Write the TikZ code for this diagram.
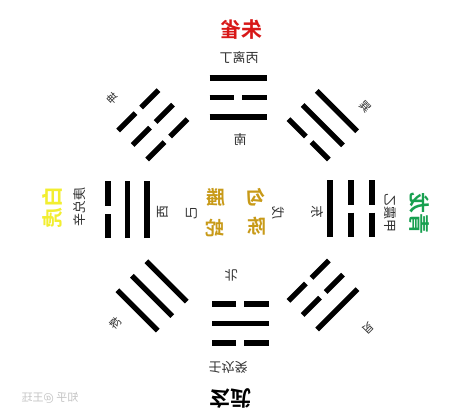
\documentclass[tikz,border=0pt]{standalone}
\usepackage{fontspec}
\usepackage{graphicx}
\newfontfamily\cjk{Noto Sans CJK SC}
\newfontfamily\cjkb{Noto Sans CJK SC Bold}
\definecolor{zhuquered}{HTML}{D81818}
\definecolor{qinglonggreen}{HTML}{18A050}
\definecolor{baihuyellow}{HTML}{F2EE30}
\definecolor{centergold}{HTML}{C89A18}
\definecolor{markgray}{HTML}{C4C4C4}
\definecolor{labelgray}{HTML}{303030}
\tikzset{
  yaoline/.style={line width=5.3pt, black, line cap=butt},
  yaoyang/.pic={\draw[yaoline] (-28.5,0) -- (28.5,0);},
  yaoyin/.pic={\draw[yaoline] (-28.5,0) -- (-4,0); \draw[yaoline] (4,0) -- (28.5,0);},
  lbl/.style={inner sep=0pt, text=labelgray, font=\cjk\fontsize{13}{13}\selectfont},
  smlbl/.style={inner sep=0pt, text=labelgray, font=\cjk\fontsize{11}{11}\selectfont},
  beast/.style={inner sep=0pt, font=\cjkb\fontsize{21}{21}\selectfont},
  centerlbl/.style={inner sep=0pt, text=centergold, font=\cjkb\fontsize{19}{19}\selectfont},
  watermark/.style={inner sep=0pt, text=markgray, font=\cjk\fontsize{11}{11}\selectfont},
  guascope/.style={transform shape},
}
\begin{document}
\begin{tikzpicture}[x=1pt,y=-1pt]
\fill[white] (0,0) rectangle (474,418);
\useasboundingbox (0,0) rectangle (474,418);

% ---- cardinal trigrams ----
% top: li
\begin{scope}[shift={(238,210)}, rotate=0, guascope]
  \pic at (0,-93) {yaoyang}; \pic at (0,-112.5) {yaoyin}; \pic at (0,-132) {yaoyang};
\end{scope}
% bottom: kan
\begin{scope}[shift={(240,210)}, rotate=180, guascope]
  \pic at (0,-94) {yaoyin}; \pic at (0,-113.5) {yaoyang}; \pic at (0,-133) {yaoyin};
\end{scope}
% left: dui
\begin{scope}[shift={(238,209.5)}, rotate=90, guascope]
  \pic at (0,-91) {yaoyang}; \pic at (0,-110.5) {yaoyang}; \pic at (0,-130) {yaoyin};
\end{scope}
% right: zhen
\begin{scope}[shift={(238,208.5)}, rotate=-90, guascope]
  \pic at (0,-92) {yaoyang}; \pic at (0,-113) {yaoyin}; \pic at (0,-134) {yaoyin};
\end{scope}
% ---- diagonal trigrams ----
% top-left: kun
\begin{scope}[shift={(238,210)}, rotate=45, guascope]
  \pic at (0,-100) {yaoyin}; \pic at (0,-120.5) {yaoyin}; \pic at (0,-141) {yaoyin};
\end{scope}
% top-right: xun
\begin{scope}[shift={(238,210)}, rotate=-45, guascope]
  \pic at (0,-100) {yaoyin}; \pic at (0,-120) {yaoyang}; \pic at (0,-140) {yaoyang};
\end{scope}
% bottom-left: qian
\begin{scope}[shift={(238,210)}, rotate=135, guascope]
  \pic at (0,-101) {yaoyang}; \pic at (0,-121.5) {yaoyang}; \pic at (0,-142) {yaoyang};
\end{scope}
% bottom-right: gen
\begin{scope}[shift={(238,210)}, rotate=-135, guascope]
  \pic at (0,-100) {yaoyin}; \pic at (0,-120) {yaoyin}; \pic at (0,-140.5) {yaoyang};
\end{scope}

% ---- top ----
\node[beast, text=zhuquered] (zhuque) at (241,30) {\reflectbox{朱雀}};
\node[lbl] (bingliding) at (239,58) {\reflectbox{丙离丁}};
\node[lbl] (nan) at (240,140) {\reflectbox{南}};
% ---- bottom ----
\node[lbl, rotate=180] (bei) at (231,275) {\reflectbox{北}};
\node[lbl, rotate=180] (renkangui) at (228,367) {\reflectbox{壬坎癸}};
\node[beast, text=black, rotate=180] (xuanwu) at (230,398) {\reflectbox{玄武}};
% ---- left ----
\node[beast, text=baihuyellow, rotate=90] (baihu) at (52,207) {\reflectbox{白虎}};
\node[lbl, rotate=90] (gengduixin) at (80,207) {\reflectbox{庚兑辛}};
\node[lbl, rotate=90] (xi) at (163,212) {\reflectbox{西}};
\node[lbl, rotate=90] (ji) at (192,213) {\reflectbox{己}};
% ---- right ----
\node[beast, text=qinglonggreen, rotate=-90] (qinglong) at (419,213) {\reflectbox{青龙}};
\node[lbl, rotate=-90] (jiazhenyi) at (390,213) {\reflectbox{甲震乙}};
\node[lbl, rotate=-90] (dong) at (318,212) {\reflectbox{东}};
\node[lbl, rotate=-90] (wu) at (278,213) {\reflectbox{戊}};
% ---- centre ----
\node[centerlbl] (gou) at (256,197) {\reflectbox{勾}};
\node[centerlbl] (chen) at (257,226) {\reflectbox{陈}};
\node[centerlbl] (teng) at (216,197) {\reflectbox{螣}};
\node[centerlbl] (she) at (215,228) {\reflectbox{蛇}};
% ---- diagonal labels ----
\node[smlbl, rotate=45] (kun) at (113,98) {\reflectbox{坤}};
\node[smlbl, rotate=-45] (xun) at (365,107) {\reflectbox{巽}};
\node[smlbl, rotate=135] (qian) at (115,323) {\reflectbox{乾}};
\node[smlbl, rotate=-135] (gen) at (368,328) {\reflectbox{艮}};
% ---- watermark ----
\node[watermark] (zhihu) at (50,398) {\reflectbox{知乎 @王珏}};
\end{tikzpicture}
\end{document}
